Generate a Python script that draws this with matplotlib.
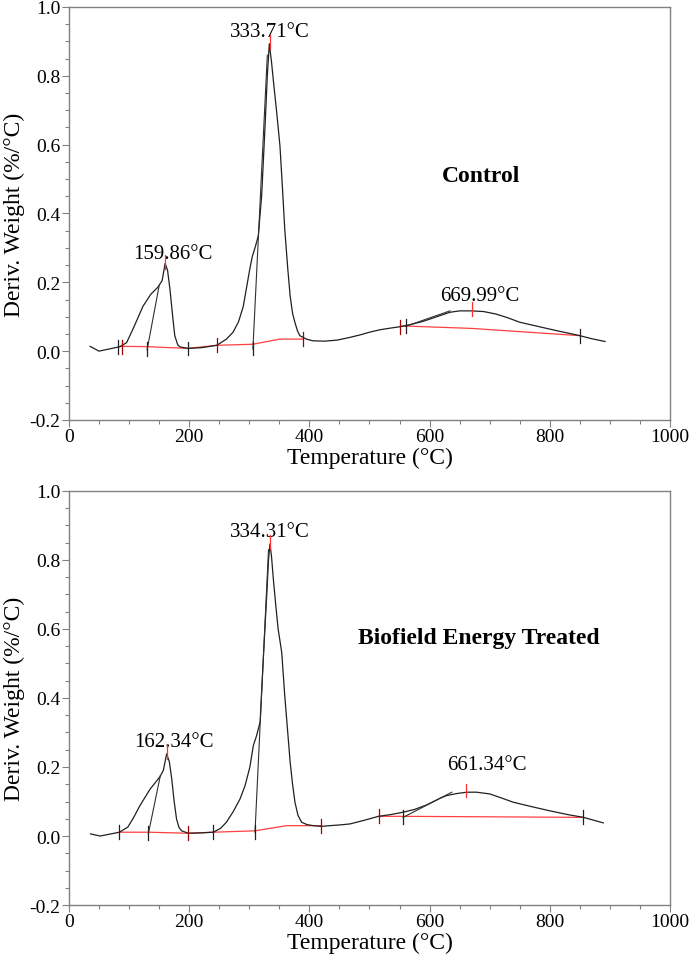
import numpy as np
import matplotlib.pyplot as plt
from matplotlib.ticker import MultipleLocator

plt.rcParams['font.family'] = ['Liberation Serif', 'DejaVu Serif']

# ---- Control ----
ctrl_T = [35, 50, 85, 96, 108, 123, 136, 148, 155, 160, 164, 168, 172, 176, 181, 185, 198, 220, 246,
          262, 273, 282, 290, 296, 301, 305, 309.5, 315, 320.6, 326, 330, 333.3, 337, 341, 345.6, 351,
          355, 359, 364, 368, 372, 376, 380, 384, 395, 406, 425, 446, 465, 484, 500, 517, 535, 551,
          570, 590, 612, 634, 650, 670, 690, 710, 730, 750, 780, 810, 850, 870, 892]
ctrl_dtg = [0.014, 0.0, 0.013, 0.025, 0.07, 0.13, 0.165, 0.186, 0.205, 0.255, 0.235, 0.18, 0.11, 0.045,
            0.018, 0.012, 0.008, 0.01, 0.017, 0.035, 0.055, 0.085, 0.13, 0.19, 0.24, 0.275, 0.30, 0.335,
            0.452, 0.646, 0.80, 0.893, 0.84, 0.77, 0.694, 0.597, 0.48, 0.355, 0.24, 0.16, 0.11, 0.083,
            0.06, 0.045, 0.035, 0.03, 0.029, 0.032, 0.039, 0.047, 0.055, 0.062, 0.067, 0.071, 0.078,
            0.087, 0.1, 0.113, 0.117, 0.117, 0.115, 0.108, 0.097, 0.084, 0.072, 0.06, 0.045, 0.036, 0.028]
ctrl_base_T = [85, 130, 198, 246, 306, 351, 390]
ctrl_base = [0.014, 0.013, 0.008, 0.017, 0.02, 0.035, 0.035]
ctrl_base2_T = [551, 560, 670, 850]
ctrl_base2 = [0.072, 0.073, 0.066, 0.045]
ctrl_tangents = [((130, 0.004), (150, 0.19)), ((306, 0.006), (330, 0.86)), ((560, 0.072), (634, 0.117))]
ctrl_marks_black = [82, 130, 198, 306, 560, 850]
ctrl_marks_black_y = [0.013, 0.006, 0.008, 0.008, 0.072, 0.045]
ctrl_marks_dark = [88, 246, 390, 551]
ctrl_marks_dark_y = [0.013, 0.017, 0.035, 0.071]
ctrl_peaks = [159.86, 333.71, 669.99]
ctrl_peak_y = [0.255, 0.893, 0.117]
ctrl_labels = ['159.86°C', '333.71°C', '669.99°C']
ctrl_label_pos = [(173, 0.255), (334, 0.9), (684, 0.133)]

# ---- Biofield Energy Treated ----
trt_T = [36, 52, 84, 98, 108, 118, 135, 151, 157, 162.5, 167, 171, 175, 179, 183, 187.5, 198.5, 220, 240,
         252, 262, 273, 284.5, 293, 301, 306.7, 312, 318, 323, 329, 332, 334.4, 337, 340, 344, 348, 354,
         359, 364, 368, 372, 376, 381, 387, 396, 406.5, 420, 434, 450, 467.5, 490, 515, 535, 556, 575,
         595, 617, 628, 645, 662, 678, 700, 720, 739, 770, 800, 830, 856, 889]
trt_dtg = [0.006, 0.0, 0.011, 0.026, 0.055, 0.088, 0.136, 0.171, 0.19, 0.238, 0.215, 0.165, 0.1, 0.049,
           0.025, 0.015, 0.008, 0.009, 0.011, 0.022, 0.04, 0.07, 0.107, 0.146, 0.2, 0.262, 0.29, 0.33,
           0.503, 0.697, 0.8, 0.846, 0.81, 0.745, 0.67, 0.6, 0.532, 0.407, 0.3, 0.214, 0.15, 0.098, 0.06,
           0.04, 0.033, 0.03, 0.028, 0.03, 0.032, 0.035, 0.045, 0.057, 0.062, 0.069, 0.077, 0.09, 0.109,
           0.117, 0.123, 0.127, 0.127, 0.122, 0.11, 0.098, 0.085, 0.073, 0.062, 0.054, 0.038]
trt_base_T = [84, 132, 198, 240, 309.5, 362, 420]
trt_base = [0.011, 0.011, 0.008, 0.011, 0.015, 0.03, 0.03]
trt_base2_T = [515, 556, 662, 856]
trt_base2 = [0.057, 0.057, 0.056, 0.054]
trt_tangents = [((132, 0.006), (152, 0.175)), ((309.5, 0.011), (332, 0.83)), ((556, 0.054), (637, 0.127))]
trt_marks_black = [84, 132, 240, 309.5, 556, 856]
trt_marks_black_y = [0.011, 0.008, 0.011, 0.011, 0.054, 0.054]
trt_marks_dark = [198, 420, 515]
trt_marks_dark_y = [0.008, 0.028, 0.057]
trt_peaks = [162.34, 334.31, 661.34]
trt_peak_y = [0.238, 0.846, 0.127]
trt_labels = ['162.34°C', '334.31°C', '661.34°C']
trt_label_pos = [(175, 0.245), (334, 0.855), (695, 0.18)]


def draw_panel(ax, T, dtg, bT, b, b2T, b2, tangents, mk_black, mk_black_y, mk_dark, mk_dark_y,
               peaks, peak_y, labels, label_pos, title, title_pos):
    ax.plot(bT, b, color='#ff4040', lw=0.9, zorder=2)
    ax.plot(b2T, b2, color='#ff4040', lw=0.9, zorder=2)
    ax.plot(T, dtg, color='#202020', lw=0.9, zorder=3)
    for (x0, y0), (x1, y1) in tangents:
        ax.plot([x0, x1], [y0, y1], color='#303030', lw=0.8, zorder=3)
    for xm, ym in zip(mk_black, mk_black_y):
        ax.plot([xm, xm], [ym - 0.02, ym + 0.02], color='#202020', lw=0.9, zorder=4)
    for xm, ym in zip(mk_dark, mk_dark_y):
        ax.plot([xm, xm], [ym - 0.02, ym + 0.02], color='#a00000', lw=0.9, zorder=4)
    for xp, yp in zip(peaks, peak_y):
        ax.plot([xp, xp], [yp - 0.015, yp + 0.025], color='#ff3030', lw=0.9, zorder=4)
    for lab, (lx, ly) in zip(labels, label_pos):
        ax.text(lx, ly, lab, ha='center', va='bottom', fontsize=15)
    ax.text(title_pos[0], title_pos[1], title, ha='center', va='center',
            fontsize=17, fontweight='bold')

    ax.set_xlim(0, 1000)
    ax.set_ylim(-0.2, 1.0)
    ax.xaxis.set_major_locator(MultipleLocator(200))
    ax.xaxis.set_minor_locator(MultipleLocator(50))
    ax.yaxis.set_major_locator(MultipleLocator(0.2))
    ax.yaxis.set_minor_locator(MultipleLocator(0.05))
    ax.yaxis.set_major_formatter(lambda v, p: f'{v:.1f}')
    ax.tick_params(which='both', direction='out', color='#808080', labelsize=14, width=0.8)
    ax.tick_params(which='major', length=5, pad=1)
    ax.tick_params(which='minor', length=3)
    for s in ax.spines.values():
        s.set_color('#808080')
        s.set_linewidth(1.0)
    ax.set_xlabel('Temperature (°C)', fontsize=17, labelpad=1)
    ax.set_ylabel('Deriv. Weight (%/°C)', fontsize=17, labelpad=3)


fig = plt.figure(figsize=(6.94, 9.62), dpi=100)
ax1 = fig.add_axes([0.0994, 0.5624, 0.866, 0.4293])
ax2 = fig.add_axes([0.0994, 0.0582, 0.866, 0.4304])

draw_panel(ax1, ctrl_T, ctrl_dtg, ctrl_base_T, ctrl_base, ctrl_base2_T, ctrl_base2, ctrl_tangents,
           ctrl_marks_black, ctrl_marks_black_y, ctrl_marks_dark, ctrl_marks_dark_y,
           ctrl_peaks, ctrl_peak_y, ctrl_labels, ctrl_label_pos, 'Control', (685, 0.51))
draw_panel(ax2, trt_T, trt_dtg, trt_base_T, trt_base, trt_base2_T, trt_base2, trt_tangents,
           trt_marks_black, trt_marks_black_y, trt_marks_dark, trt_marks_dark_y,
           trt_peaks, trt_peak_y, trt_labels, trt_label_pos, 'Biofield Energy Treated', (682, 0.575))

fig.savefig('out.png', dpi=100)
